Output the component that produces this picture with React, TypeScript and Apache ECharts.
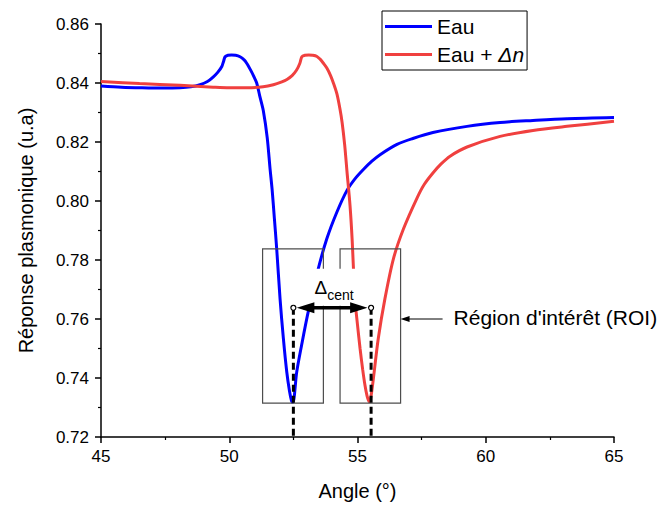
import React, { useEffect, useRef } from "react";
import * as echarts from "echarts";

// ---- Data ----
const angleEau = [
  45.0, 45.8, 46.6, 47.4, 48.08, 48.5, 48.86, 49.15, 49.37, 49.55, 49.71, 49.78, 49.84, 49.95, 50.09,
  50.25, 50.42, 50.56, 50.68, 50.85, 50.97, 51.07, 51.2, 51.33, 51.48, 51.59, 51.67, 51.76, 51.85,
  51.98, 52.11, 52.24, 52.35, 52.43, 52.47, 52.52, 52.56, 52.63, 52.82, 53.08, 53.47, 53.8, 54.19,
  54.59, 54.9, 55.21, 55.55, 55.88, 56.54, 57.16, 57.94, 59.27, 60.56, 61.84, 63.17, 65.0,
];
const reponseEau = [
  0.839, 0.8386, 0.8384, 0.8383, 0.8384, 0.8387, 0.8394, 0.8405, 0.842, 0.8436, 0.8456, 0.8474, 0.8489,
  0.8494, 0.8495, 0.8494, 0.8489, 0.848, 0.8467, 0.8441, 0.842, 0.84, 0.8352, 0.8305, 0.8215, 0.811,
  0.804, 0.794, 0.7838, 0.7669, 0.7534, 0.7422, 0.7355, 0.7322, 0.7318, 0.7328, 0.736, 0.742, 0.7511,
  0.7625, 0.777, 0.7871, 0.7961, 0.8036, 0.8075, 0.8105, 0.8134, 0.8157, 0.8192, 0.8212, 0.8232,
  0.8253, 0.8266, 0.8273, 0.8279, 0.8283,
];
const angleEauDn = [
  45.0, 46.5, 48.08, 49.37, 50.0, 50.68, 51.32, 51.72, 52.05, 52.25, 52.45, 52.62, 52.75, 52.83, 52.95,
  53.1, 53.25, 53.42, 53.55, 53.67, 53.81, 53.95, 54.06, 54.2, 54.32, 54.4, 54.5, 54.59, 54.71, 54.79,
  54.9, 55.0, 55.1, 55.2, 55.29, 55.37, 55.45, 55.52, 55.62, 55.81, 56.07, 56.4, 56.79, 57.32, 57.6,
  57.94, 58.25, 58.61, 59.27, 60.56, 61.84, 63.17, 65.0,
];
const reponseEauDn = [
  0.8405, 0.8398, 0.8392, 0.8386, 0.8384, 0.8384, 0.8387, 0.8394, 0.8404, 0.8412, 0.8425, 0.8443,
  0.8466, 0.8489, 0.8494, 0.8495, 0.8494, 0.849, 0.848, 0.8467, 0.845, 0.8425, 0.84, 0.8362, 0.831,
  0.8266, 0.819, 0.81, 0.7983, 0.7871, 0.7669, 0.758, 0.75, 0.743, 0.7376, 0.734, 0.732, 0.7335,
  0.7399, 0.7534, 0.7669, 0.7804, 0.7905, 0.801, 0.8056, 0.8095, 0.8125, 0.8152, 0.8183, 0.8219,
  0.8239, 0.8253, 0.827,
];

const seriesNames = ["Eau", "Eau + Δn"];
const xRange = [45, 65];
const yRange = [0.72, 0.86];

// ---- Annotation anchors (data units) ----
const roiBoxesX = [
  [51.3, 53.67],
  [54.32, 56.68],
];
const roiBoxY = [0.7315, 0.7838];
const centroids = [52.5, 55.53];
const centroidLevel = 0.7638;
const roiPointerLevel = 0.76;
const labelMaskX = [53.07, 55.02];
const labelMaskY = [0.7645, 0.777];

const FONT = "'Liberation Sans', Arial, sans-serif";

export default function App() {
  const ref = useRef<HTMLDivElement>(null);
  useEffect(() => {
    const chart = echarts.init(ref.current!, null, { renderer: "svg" });
    chart.setOption({
      animation: false,
      backgroundColor: "#fff",
      grid: { left: 101, right: 50, top: 24, bottom: 67 },
      legend: {
        orient: "vertical",
        left: 382,
        top: 11,
        itemWidth: 47,
        itemHeight: 3,
        itemGap: 7,
        padding: [5, 3, 5, 3],
        borderColor: "#000",
        borderWidth: 1,
        backgroundColor: "#fff",
        data: seriesNames.map((n) => ({ name: n, icon: "rect" })),
        formatter: (name: string) =>
          name === seriesNames[1] ? "{n|Eau + }{i|Δn}" : "{n|" + name + "}",
        textStyle: {
          fontSize: 21,
          fontFamily: FONT,
          color: "#000",
          rich: {
            n: { fontSize: 21, fontFamily: FONT, color: "#000" },
            i: { fontSize: 21, fontFamily: FONT, color: "#000", fontStyle: "italic" },
          },
        },
      },
      xAxis: {
        type: "value",
        min: xRange[0],
        max: xRange[1],
        interval: 5,
        name: "Angle (°)",
        nameLocation: "middle",
        nameGap: 44,
        nameTextStyle: { fontSize: 20, fontFamily: FONT, color: "#000" },
        axisLine: { lineStyle: { color: "#000", width: 1.5 } },
        axisTick: { length: 6, lineStyle: { color: "#000", width: 1.5 } },
        minorTick: { show: true, splitNumber: 2, length: 3, lineStyle: { color: "#000", width: 1.2 } },
        axisLabel: { fontSize: 17, fontFamily: FONT, color: "#000", margin: 11 },
        splitLine: { show: false },
      },
      yAxis: {
        type: "value",
        min: yRange[0],
        max: yRange[1],
        interval: 0.02,
        name: "Réponse plasmonique (u.a)",
        nameLocation: "middle",
        nameGap: 65,
        nameRotate: 90,
        nameTextStyle: { fontSize: 20, fontFamily: FONT, color: "#000" },
        axisLine: { show: true, lineStyle: { color: "#000", width: 1.5 } },
        axisTick: { show: true, length: 6, lineStyle: { color: "#000", width: 1.5 } },
        minorTick: { show: true, splitNumber: 2, length: 3, lineStyle: { color: "#000", width: 1.2 } },
        axisLabel: {
          fontSize: 17,
          fontFamily: FONT,
          color: "#000",
          margin: 12,
          formatter: (v: number) => v.toFixed(2),
        },
        splitLine: { show: false },
      },
      series: [
        {
          name: seriesNames[0],
          type: "line",
          symbol: "none",
          smooth: 0.3,
          data: angleEau.map((a, i) => [a, reponseEau[i]]),
          lineStyle: { color: "#0000ff", width: 3 },
          itemStyle: { color: "#0000ff" },
          z: 3,
        },
        {
          name: seriesNames[1],
          type: "line",
          symbol: "none",
          smooth: 0.3,
          data: angleEauDn.map((a, i) => [a, reponseEauDn[i]]),
          lineStyle: { color: "#f0403f", width: 3 },
          itemStyle: { color: "#f0403f" },
          z: 3,
        },
      ],
    });

    const px = (x: number, y: number) =>
      chart.convertToPixel({ gridIndex: 0 }, [x, y]) as number[];

    const g: any[] = [];
    // ROI boxes
    roiBoxesX.forEach(([x0, x1]) => {
      const a = px(x0, roiBoxY[1]);
      const b = px(x1, roiBoxY[0]);
      g.push({
        type: "rect",
        z: 100,
        shape: { x: a[0], y: a[1], width: b[0] - a[0], height: b[1] - a[1] },
        style: { fill: "none", stroke: "#4d4d4d", lineWidth: 1.2 },
      });
    });
    // white mask behind the Δcent label
    {
      const a = px(labelMaskX[0], labelMaskY[1]);
      const b = px(labelMaskX[1], labelMaskY[0]);
      g.push({
        type: "rect",
        z: 101,
        shape: { x: a[0], y: a[1], width: b[0] - a[0], height: b[1] - a[1] },
        style: { fill: "#fff", stroke: "none" },
      });
    }
    const pL = px(centroids[0], centroidLevel);
    const pR = px(centroids[1], centroidLevel);
    const axisY = px(centroids[0], yRange[0])[1];
    // dashed verticals
    [pL, pR].forEach((p) => {
      g.push({
        type: "line",
        z: 102,
        shape: { x1: p[0], y1: p[1], x2: p[0], y2: axisY },
        style: { stroke: "#000", lineWidth: 3, lineDash: [7, 4] },
      });
    });
    // double arrow
    const yA = pL[1];
    g.push({
      type: "line",
      z: 103,
      shape: { x1: pL[0] + 10, y1: yA, x2: pR[0] - 10, y2: yA },
      style: { stroke: "#000", lineWidth: 3.5 },
    });
    g.push({
      type: "polygon",
      z: 104,
      shape: { points: [[pL[0] + 3.4, yA], [pL[0] + 21, yA - 5.5], [pL[0] + 21, yA + 5.5]] },
      style: { fill: "#000" },
    });
    g.push({
      type: "polygon",
      z: 104,
      shape: { points: [[pR[0] - 3.6, yA], [pR[0] - 21, yA - 5.5], [pR[0] - 21, yA + 5.5]] },
      style: { fill: "#000" },
    });
    // open circles
    [pL, pR].forEach((p) => {
      g.push({
        type: "circle",
        z: 105,
        shape: { cx: p[0], cy: p[1], r: 2.5 },
        style: { fill: "#fff", stroke: "#000", lineWidth: 1.2 },
      });
    });
    // Δcent label
    const cx = (pL[0] + pR[0]) / 2;
    g.push({
      type: "text",
      z: 106,
      x: cx - 5,
      y: yA - 20,
      style: {
        text: "Δ",
        fontSize: 19,
        fontFamily: FONT,
        fill: "#000",
        align: "right",
        verticalAlign: "middle",
      },
    });
    g.push({
      type: "text",
      z: 106,
      x: cx - 5,
      y: yA - 13,
      style: {
        text: "cent",
        fontSize: 14,
        fontFamily: FONT,
        fill: "#000",
        align: "left",
        verticalAlign: "middle",
      },
    });
    // ROI pointer
    const tip = px(roiBoxesX[1][1], roiPointerLevel);
    g.push({
      type: "line",
      z: 103,
      shape: { x1: tip[0] + 8, y1: tip[1], x2: tip[0] + 42, y2: tip[1] },
      style: { stroke: "#000", lineWidth: 1 },
    });
    g.push({
      type: "polygon",
      z: 104,
      shape: { points: [[tip[0], tip[1]], [tip[0] + 9, tip[1] - 3], [tip[0] + 9, tip[1] + 3]] },
      style: { fill: "#000" },
    });
    g.push({
      type: "text",
      z: 106,
      x: tip[0] + 53,
      y: tip[1] - 2,
      style: {
        text: "Région d'intérêt (ROI)",
        fontSize: 21,
        fontFamily: FONT,
        fill: "#000",
        align: "left",
        verticalAlign: "middle",
      },
    });

    chart.setOption({ graphic: g });
    return () => chart.dispose();
  }, []);
  return (
    <div
      ref={ref}
      style={{ position: "fixed", left: 0, top: 0, width: 664, height: 506 }}
    />
  );
}
